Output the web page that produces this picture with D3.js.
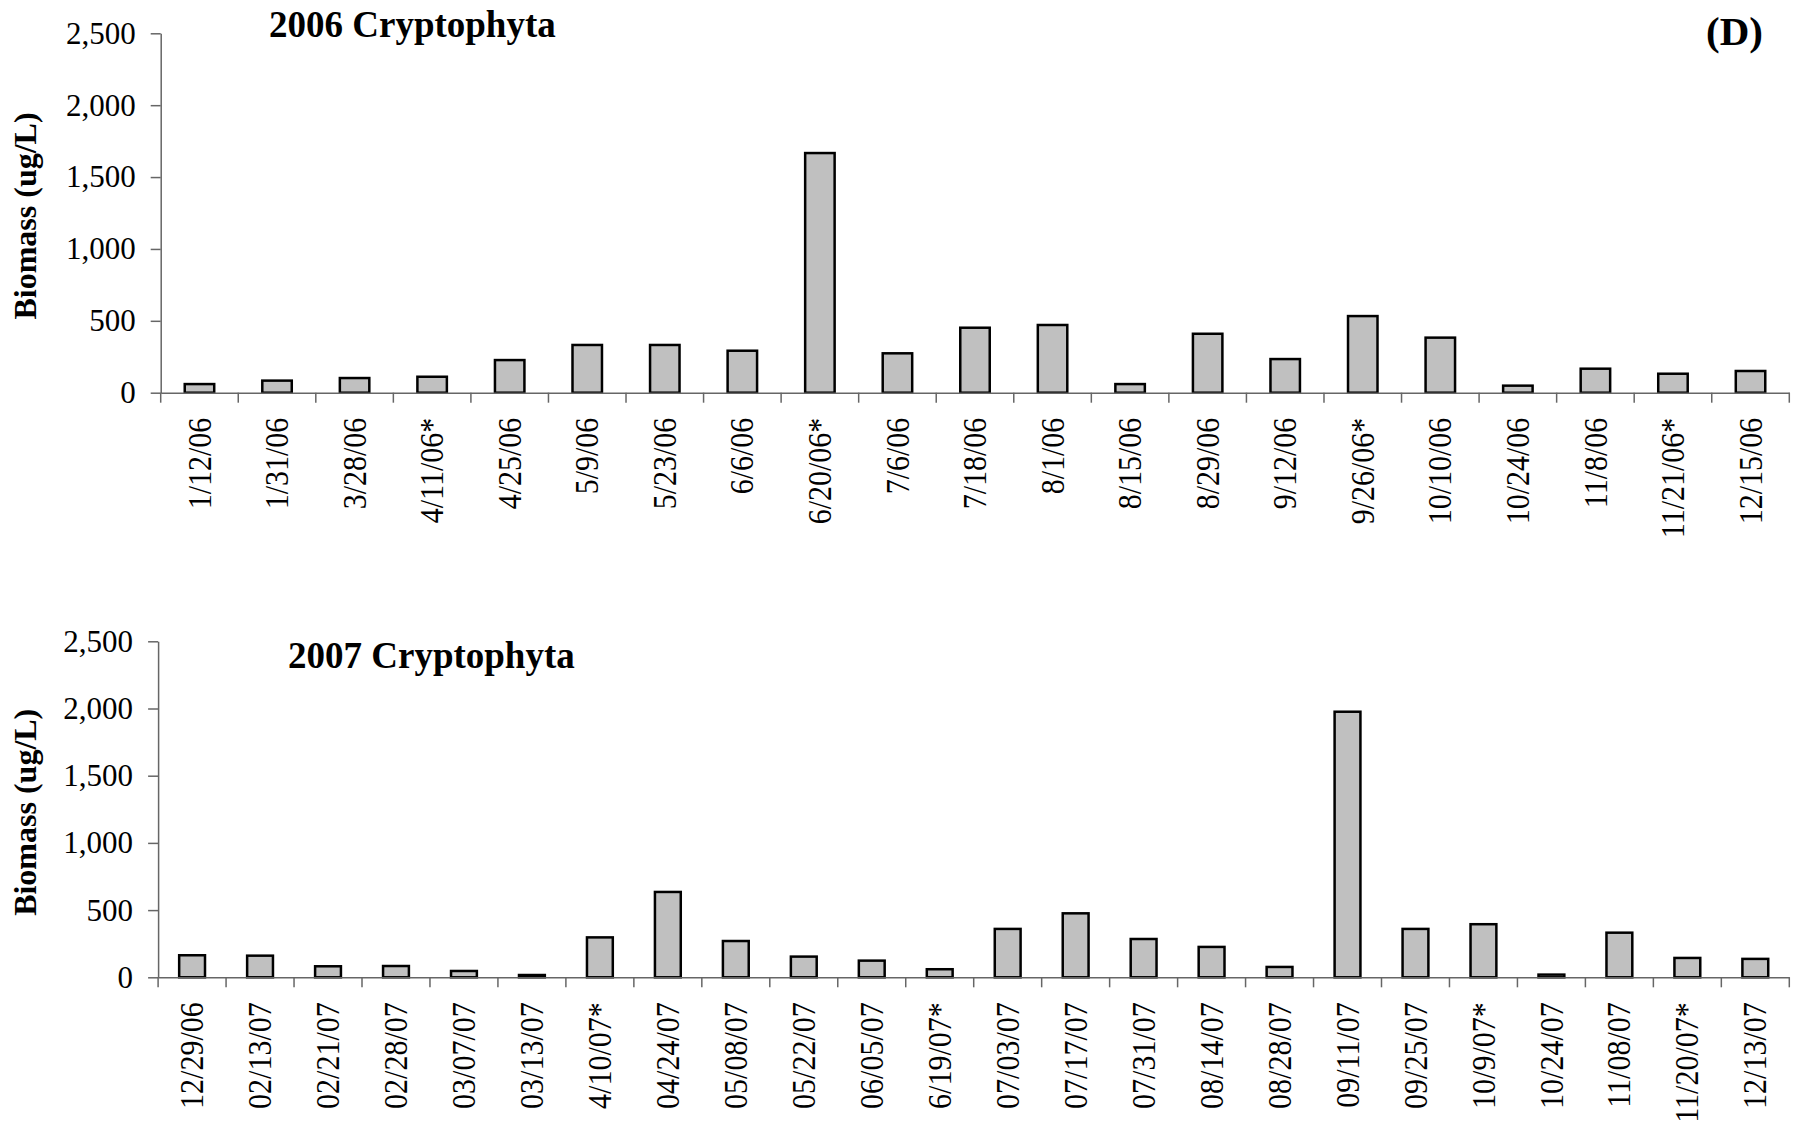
<!DOCTYPE html>
<html>
<head>
<meta charset="utf-8">
<script src="https://cdn.jsdelivr.net/npm/d3@7"></script>
<style>
  html, body { margin: 0; padding: 0; background: #fff; }
  svg { display: block; font-family: "Liberation Serif", "Times New Roman", Times, serif; }
</style>
</head>
<body>
<svg id="chart" width="1795" height="1130"></svg>
<script>
// Sampling dates and Cryptophyta biomass (ug/L)
const dates2006 = ["1/12/06","1/31/06","3/28/06","4/11/06*","4/25/06","5/9/06","5/23/06","6/6/06","6/20/06*","7/6/06","7/18/06","8/1/06","8/15/06","8/29/06","9/12/06","9/26/06*","10/10/06","10/24/06","11/8/06","11/21/06*","12/15/06"];
const biomass2006 = [60, 84, 102, 111, 227, 332, 332, 292, 1667, 274, 452, 471, 60, 410, 234, 533, 383, 49, 167, 132, 151];

const dates2007 = ["12/29/06","02/13/07","02/21/07","02/28/07","03/07/07","03/13/07","4/10/07*","04/24/07","05/08/07","05/22/07","06/05/07","6/19/07*","07/03/07","07/17/07","07/31/07","08/14/07","08/28/07","09/11/07","09/25/07","10/9/07*","10/24/07","11/08/07","11/20/07*","12/13/07"];
const biomass2007 = [164, 161, 82, 84, 47, 17, 297, 635, 270, 154, 124, 60, 360, 476, 285, 226, 77, 1976, 360, 395, 20, 332, 144, 137];

const yTicks = [0, 500, 1000, 1500, 2000, 2500];
const yMax = 2500;

const svg = d3.select("#chart");
const axisColor = "#666";

function drawPanel(cfg) {
  const g = svg.append("g");
  const x = d3.scaleBand().domain(cfg.cats).range([cfg.left, cfg.right]).padding(0);
  const y = d3.scaleLinear().domain([0, yMax]).range([cfg.bottom, cfg.top]);
  const barW = x.bandwidth() * 0.38;

  // bars
  g.append("g").selectAll("rect")
    .data(cfg.cats.map((c, i) => ({ c, v: cfg.vals[i] })))
    .join("rect")
    .attr("x", d => x(d.c) + (x.bandwidth() - barW) / 2)
    .attr("width", barW)
    .attr("y", d => y(d.v))
    .attr("height", d => y(0) - y(d.v))
    .attr("fill", "#c0c0c0")
    .attr("stroke", "#000")
    .attr("stroke-width", 2.5);

  // y axis
  const ya = g.append("g")
    .attr("transform", `translate(${cfg.left},0)`)
    .call(d3.axisLeft(y).tickValues(yTicks).tickFormat(d3.format(",")).tickSize(10).tickSizeOuter(0).tickPadding(15));
  ya.select(".domain").attr("stroke", axisColor).attr("stroke-width", 1.5);
  ya.selectAll(".tick line").attr("stroke", axisColor).attr("stroke-width", 1.5);
  ya.selectAll(".tick text")
    .attr("fill", "#000")
    .style("font-size", "31px")
    .style("font-family", "'Liberation Serif', 'Times New Roman', serif");

  // x axis with rotated date labels
  const xa = g.append("g")
    .attr("transform", `translate(0,${cfg.bottom})`)
    .call(d3.axisBottom(x).tickSize(0).tickSizeOuter(0).tickPadding(0));
  xa.select(".domain").attr("stroke", axisColor).attr("stroke-width", 1.5);
  xa.selectAll(".tick text")
    .attr("transform", "rotate(-90) scale(1,1.12)")
    .attr("x", -25)
    .attr("y", 0)
    .attr("dy", "0.33em")
    .attr("text-anchor", "end")
    .attr("fill", "#000")
    .style("font-size", "30px")
    .style("font-family", "'Liberation Serif', 'Times New Roman', serif");

  // tick marks at category boundaries
  const bounds = cfg.cats.map(c => x(c)).concat([x(cfg.cats[cfg.cats.length - 1]) + x.bandwidth()]);
  g.append("g").selectAll("line")
    .data(bounds)
    .join("line")
    .attr("x1", d => d).attr("x2", d => d)
    .attr("y1", cfg.bottom).attr("y2", cfg.bottom + 10)
    .attr("stroke", axisColor)
    .attr("stroke-width", 1.5);

  // y axis title
  const cy = (cfg.top + cfg.bottom) / 2 + 3;
  g.append("text")
    .attr("transform", `translate(36,${cy}) rotate(-90)`)
    .attr("text-anchor", "middle")
    .attr("font-weight", "bold")
    .style("font-size", "32px")
    .text("Biomass (ug/L)");

  // panel title
  g.append("text")
    .attr("x", cfg.titleX)
    .attr("y", cfg.titleY)
    .attr("font-weight", "bold")
    .style("font-size", "37px")
    .text(cfg.title);
}

drawPanel({ cats: dates2006, vals: biomass2006, left: 160.7, right: 1789.3, top: 33.3, bottom: 392.7,
  title: "2006 Cryptophyta", titleX: 269, titleY: 37 });
drawPanel({ cats: dates2007, vals: biomass2007, left: 158.1, right: 1789.3, top: 641.3, bottom: 977.3,
  title: "2007 Cryptophyta", titleX: 288, titleY: 668 });

// panel letter
svg.append("text")
  .attr("x", 1763)
  .attr("y", 45)
  .attr("text-anchor", "end")
  .attr("font-weight", "bold")
  .style("font-size", "41px")
  .text("(D)");
</script>
</body>
</html>
